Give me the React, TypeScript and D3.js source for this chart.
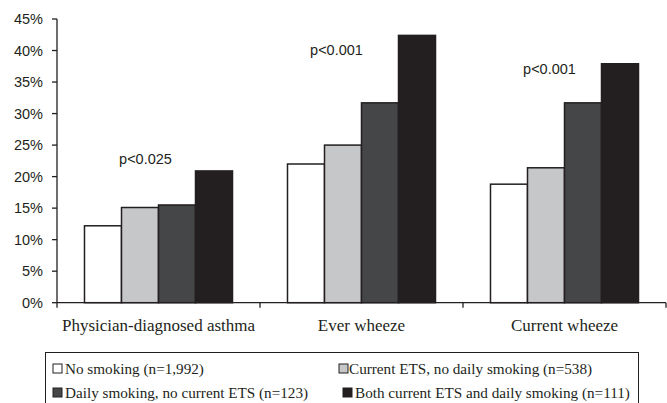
import * as d3 from "d3";

const categories = ["Physician-diagnosed asthma", "Ever wheeze", "Current wheeze"];
const seriesNames = [
  "No smoking (n=1,992)",
  "Current ETS, no daily smoking (n=538)",
  "Daily smoking, no current ETS (n=123)",
  "Both current ETS and daily smoking (n=111)",
];
const seriesColors = ["#ffffff", "#c6c7c8", "#454648", "#231f20"];
// values per category, in series order (percent)
const asthmaValues = [12.2, 15.1, 15.5, 20.9];
const everWheezeValues = [22.0, 25.0, 31.7, 42.4];
const currentWheezeValues = [18.8, 21.4, 31.7, 37.9];
const pLabels = ["p<0.025", "p<0.001", "p<0.001"];
const yTicks = [0, 5, 10, 15, 20, 25, 30, 35, 40, 45];

const values = [asthmaValues, everWheezeValues, currentWheezeValues];

const W = 667;
const H = 403;
const margin = { top: 19, right: 1, bottom: 100, left: 57 };

// label placement relative to the category centre / tallest bar
const pOffset = [
  { dx: -13, dy: -7 },
  { dx: -25, dy: 20 },
  { dx: -15, dy: 10 },
];

export default function App() {
  const x0 = d3
    .scaleBand<string>()
    .domain(categories)
    .range([margin.left, W - margin.right])
    .padding(0);
  const x1 = d3
    .scaleBand<number>()
    .domain(d3.range(seriesNames.length))
    .range([0, x0.bandwidth()])
    .paddingInner(0)
    .paddingOuter(0.743);
  const y = d3
    .scaleLinear()
    .domain([0, 45])
    .range([H - margin.bottom - 0.3, margin.top]);

  const sans = "'Liberation Sans', Arial, sans-serif";
  const serif = "'Liberation Serif', 'Times New Roman', serif";
  const axisColor = "#231f20";

  const boundaries = [...categories.map((c) => x0(c)!), W - margin.right];

  return (
    <svg
      width={W}
      height={H}
      style={{ position: "fixed", left: 0, top: 0, background: "#fff" }}
    >
      {/* y axis */}
      <line
        x1={margin.left}
        x2={margin.left}
        y1={y(45)}
        y2={y(0)}
        stroke={axisColor}
        strokeWidth={1.3}
      />
      {yTicks.map((t) => (
        <g key={t}>
          <line
            x1={margin.left - 5}
            x2={margin.left}
            y1={y(t)}
            y2={y(t)}
            stroke={axisColor}
            strokeWidth={1.3}
          />
          <text
            x={margin.left - 14}
            y={y(t)}
            dy="0.35em"
            textAnchor="end"
            fontFamily={sans}
            fontSize={14.5}
            fill="#231f20"
          >
            {t}%
          </text>
        </g>
      ))}

      {/* bars */}
      {categories.map((c, ci) => (
        <g key={c} transform={`translate(${x0(c)},0)`}>
          {values[ci].map((v, si) => (
            <rect
              key={si}
              x={x1(si)}
              y={y(v)}
              width={x1.bandwidth()}
              height={y(0) - y(v)}
              fill={seriesColors[si]}
              stroke="#231f20"
              strokeWidth={1.5}
            />
          ))}
        </g>
      ))}

      {/* x axis */}
      <line
        x1={margin.left}
        x2={W - margin.right}
        y1={y(0)}
        y2={y(0)}
        stroke={axisColor}
        strokeWidth={1.3}
      />
      {boundaries.map((b, i) => (
        <line
          key={i}
          x1={b}
          x2={b}
          y1={y(0)}
          y2={y(0) + 5}
          stroke={axisColor}
          strokeWidth={1.3}
        />
      ))}
      {categories.map((c) => (
        <text
          key={c}
          x={x0(c)! + x0.bandwidth() / 2}
          y={325}
          dy="0.35em"
          textAnchor="middle"
          fontFamily={serif}
          fontSize={17}
          fill="#231f20"
        >
          {c}
        </text>
      ))}

      {/* p-values */}
      {categories.map((c, ci) => (
        <text
          key={c}
          x={x0(c)! + x0.bandwidth() / 2 + pOffset[ci].dx}
          y={y(d3.max(values[ci])!) + pOffset[ci].dy}
          textAnchor="middle"
          fontFamily={sans}
          fontSize={14.5}
          fill="#231f20"
        >
          {pLabels[ci]}
        </text>
      ))}

      {/* legend */}
      <rect
        x={45.5}
        y={352.5}
        width={593}
        height={60}
        fill="none"
        stroke="#231f20"
        strokeWidth={1}
      />
      {seriesNames.map((s, i) => {
        const col = i % 2;
        const row = Math.floor(i / 2);
        const sx = col === 0 ? 53 : i === 1 ? 339 : 343;
        const cy = 369 + row * 24;
        return (
          <g key={s}>
            <rect
              x={sx}
              y={cy - 5}
              width={9}
              height={9}
              fill={seriesColors[i]}
              stroke="#231f20"
              strokeWidth={1}
            />
            <text
              x={sx + (i === 1 ? 10 : 12)}
              y={cy}
              dy="0.35em"
              fontFamily={serif}
              fontSize={15.2}
              fill="#231f20"
            >
              {s}
            </text>
          </g>
        );
      })}
    </svg>
  );
}
